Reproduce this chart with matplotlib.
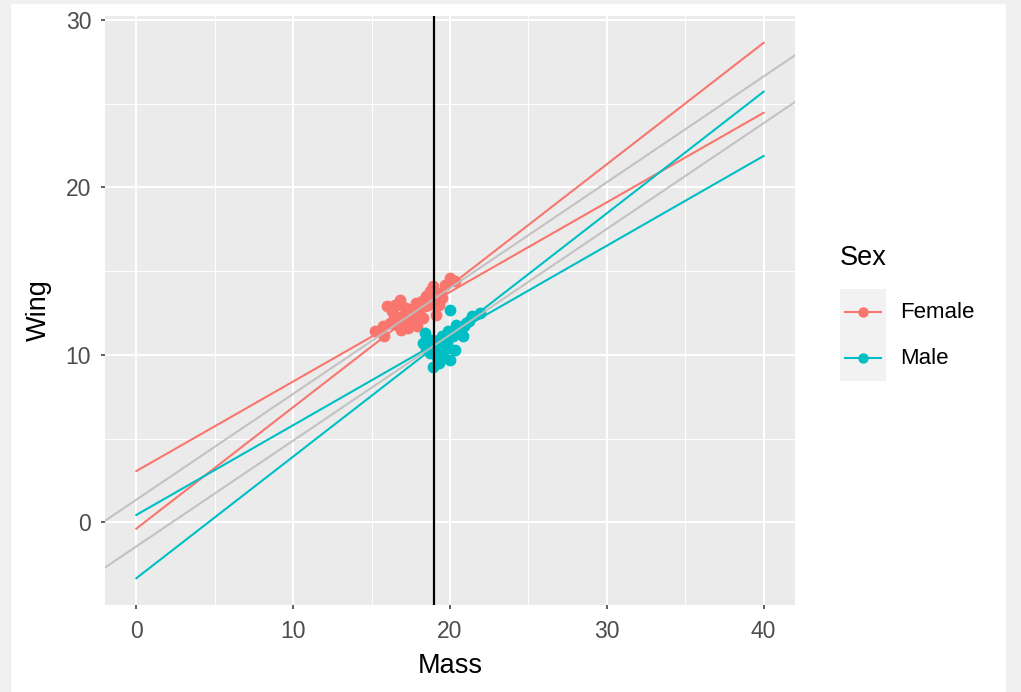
import numpy as np
import matplotlib
matplotlib.use("Agg")
import matplotlib.pyplot as plt
from matplotlib.lines import Line2D
from matplotlib.patches import Rectangle

plt.rcParams['font.family'] = ['Liberation Sans', 'DejaVu Sans']

# data
female_mass = [15.2, 15.7, 15.8, 16.2, 16.3, 16.5, 16.7, 16.9, 16.9, 17.2, 17.3, 17.6, 17.7,
               17.9, 18.2, 18.5, 18.7, 18.9, 19.1, 19.3, 19.5, 19.7, 20.0, 20.3, 16.0,
               17.0, 18.0, 18.4, 19.0, 16.8, 16.4, 17.5, 18.1, 17.8, 18.6, 16.6, 17.1,
               18.3, 19.4]
female_wing = [11.4, 11.7, 11.1, 11.9, 12.6, 13.0, 12.2, 13.0, 11.5, 12.8, 11.6, 12.2, 12.8,
               11.7, 13.2, 13.5, 13.8, 14.1, 12.4, 13.0, 13.4, 14.2, 14.6, 14.4, 12.9,
               12.3, 12.6, 12.9, 13.2, 13.3, 12.4, 12.5, 12.9, 13.1, 13.0, 11.8, 11.9,
               12.2, 13.7]
male_mass = [18.4, 18.3, 18.7, 18.9, 19.5, 19.8, 19.5, 20.2, 20.6, 21.0, 21.4, 21.9, 20.8,
             20.0, 19.3, 18.7, 19.1, 20.0, 19.9, 20.4, 18.5, 19.2, 21.2, 20.3, 19.6,
             20.5, 19.9, 18.9, 20.9, 19.6]
male_wing = [11.3, 10.7, 10.1, 9.3, 10.1, 10.7, 11.1, 11.1, 11.5, 11.9, 12.3, 12.5, 11.1,
             9.7, 9.5, 10.9, 10.5, 12.7, 10.4, 11.8, 10.4, 9.9, 12.0, 10.3, 10.4,
             11.3, 11.4, 10.9, 11.7, 9.8]

# fitted lines from mass 0 to 40 (intercept, slope)
female_int = [-0.38, 3.06]
female_slope = [0.7255, 0.535]
male_int = [-3.34, 0.44]
male_slope = [0.7265, 0.536]
# grey reference lines over the whole panel
grey_int = [1.35, -1.44]
grey_slope = [0.632, 0.632]
mean_mass = 18.95
line_x = [0, 40]

red = '#F8766D'
teal = '#00BFC4'

fig = plt.figure(figsize=(10.21, 6.92), dpi=100)
# light textured border strips
fig.patches.append(Rectangle((0, 0), 10 / 1021, 1, transform=fig.transFigure, color='#F0F0F0', zorder=0))
fig.patches.append(Rectangle((1006 / 1021, 0), 15 / 1021, 1, transform=fig.transFigure, color='#F0F0F0', zorder=0))
fig.patches.append(Rectangle((0, 1 - 3 / 692), 1, 3 / 692, transform=fig.transFigure, color='#F0F0F0', zorder=0))

ax = fig.add_axes([105 / 1021, 1 - 605 / 692, 690 / 1021, 589 / 692])
ax.set_facecolor('#EBEBEB')
for s in ax.spines.values():
    s.set_visible(False)

ax.set_xlim(-2, 42)
ax.set_ylim(-4.94, 30.24)
ax.set_xticks([0, 10, 20, 30, 40])
ax.set_yticks([0, 10, 20, 30])
ax.set_xticks([5, 15, 25, 35], minor=True)
ax.set_yticks([5, 15, 25], minor=True)
ax.grid(which='major', color='white', linewidth=1.5)
ax.grid(which='minor', color='white', linewidth=0.75)
ax.set_axisbelow(True)
ax.tick_params(which='major', length=3, width=1.1, color='#333333', labelsize=16.5,
               labelcolor='#4D4D4D')
ax.tick_params(axis='x', which='major', pad=8)
ax.tick_params(axis='y', which='major', pad=7)
ax.tick_params(which='minor', length=0)

ax.scatter(female_mass, female_wing, s=72, color=red, linewidths=0, zorder=2)
ax.scatter(male_mass, male_wing, s=72, color=teal, linewidths=0, zorder=2)

xs = np.array(line_x)
for a, b in zip(female_int, female_slope):
    ax.plot(xs, a + b * xs, color=red, lw=1.5, zorder=3)
for a, b in zip(male_int, male_slope):
    ax.plot(xs, a + b * xs, color=teal, lw=1.5, zorder=3)
for a, b in zip(grey_int, grey_slope):
    ax.axline((0, a), slope=b, color='#BEBEBE', lw=1.5, alpha=0.9, zorder=4)
ax.axvline(mean_mass, color='black', lw=1.6, zorder=5)

ax.set_xlabel('Mass', fontsize=19.5, color='black', labelpad=7)
ax.set_ylabel('Wing', fontsize=19.5, color='black', labelpad=10)

# legend drawn by hand, ggplot style
fig.text(840 / 1021, 1 - 258 / 692, 'Sex', fontsize=19.5, va='center', ha='left')
lax = fig.add_axes([840 / 1021, 1 - 381 / 692, 46 / 1021, 92 / 692])
lax.set_facecolor('#F2F2F2')
lax.set_xlim(0, 1)
lax.set_ylim(0, 2)
lax.set_xticks([])
lax.set_yticks([])
for s in lax.spines.values():
    s.set_visible(False)
for yk, col, lab in [(1.5, red, 'Female'), (0.5, teal, 'Male')]:
    lax.add_line(Line2D([0.1, 0.9], [yk, yk], color=col, lw=1.5))
    lax.plot([0.5], [yk], 'o', color=col, markersize=7.5, markeredgewidth=0)
    fig.text(900 / 1021, lax.transData.transform((0, yk))[1] / fig.bbox.height, lab,
             fontsize=16, va='center', ha='left')

fig.savefig('out.png', dpi=100)
